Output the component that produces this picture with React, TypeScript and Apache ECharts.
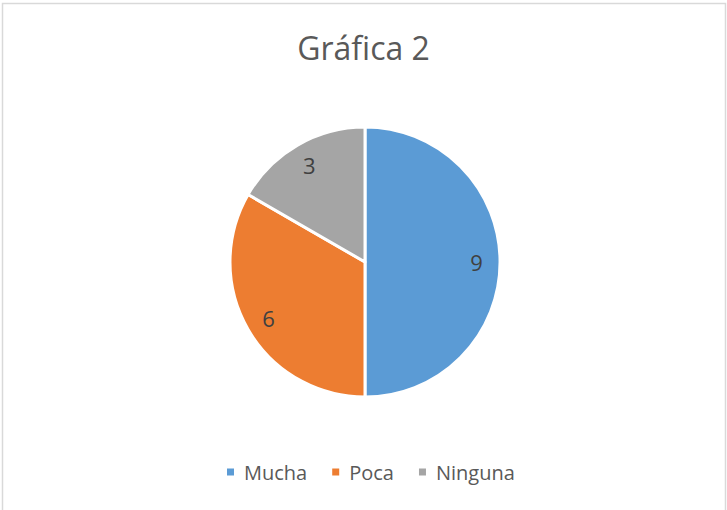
import React, { useEffect, useRef } from "react";
import * as echarts from "echarts";

const categories = ["Mucha", "Poca", "Ninguna"];
const values = [9, 6, 3];
const colors = ["#5B9BD5", "#ED7D31", "#A5A5A5"];
const titleText = "Gráfica 2";

export default function App() {
  const ref = useRef<HTMLDivElement>(null);
  useEffect(() => {
    document.body.style.margin = "0";
    const chart = echarts.init(ref.current!, null, { renderer: "svg" });
    const data = categories.map((name, i) => ({
      name,
      value: values[i],
      itemStyle: { color: colors[i] },
    }));
    const font = "'Open Sans', 'Noto Sans', sans-serif";
    chart.setOption({
      animation: false,
      backgroundColor: "#ffffff",
      title: {
        text: titleText,
        left: "center",
        top: 26,
        textStyle: { fontFamily: font, fontSize: 32, fontWeight: "normal", color: "#595959" },
      },
      legend: {
        bottom: 23,
        left: 220,
        data: categories,
        icon: "rect",
        itemWidth: 9,
        itemHeight: 9,
        itemGap: 23,
        textStyle: { fontFamily: font, fontSize: 20, color: "#595959", padding: [0, 0, 0, 4] },
      },
      graphic: [
        {
          type: "rect",
          shape: { x: 2.5, y: 3.5, width: 723, height: 530 },
          style: { fill: "none", stroke: "#d9d9d9", lineWidth: 1.5 },
          silent: true,
          z: -1,
        },
      ],
      series: [
        {
          type: "pie",
          center: [365, 262],
          radius: [0, 135],
          startAngle: 90,
          clockwise: true,
          data,
          label: { show: false },
          labelLine: { show: false },
          itemStyle: { borderColor: "#ffffff", borderWidth: 3 },
          emphasis: { disabled: true },
          silent: true,
        },
        {
          type: "pie",
          center: [365, 262],
          radius: [82, 135],
          startAngle: 90,
          clockwise: true,
          data: categories.map((name, i) => ({ name, value: values[i] })),
          itemStyle: { color: "rgba(0,0,0,0)" },
          label: {
            show: true,
            position: "inside",
            formatter: "{c}",
            fontFamily: font,
            fontSize: 22,
            color: "#404040",
          },
          labelLine: { show: false },
          emphasis: { disabled: true },
          silent: true,
          legendHoverLink: false,
        },
      ],
    });
    return () => chart.dispose();
  }, []);
  return <div ref={ref} style={{ width: 727, height: 510 }} />;
}
